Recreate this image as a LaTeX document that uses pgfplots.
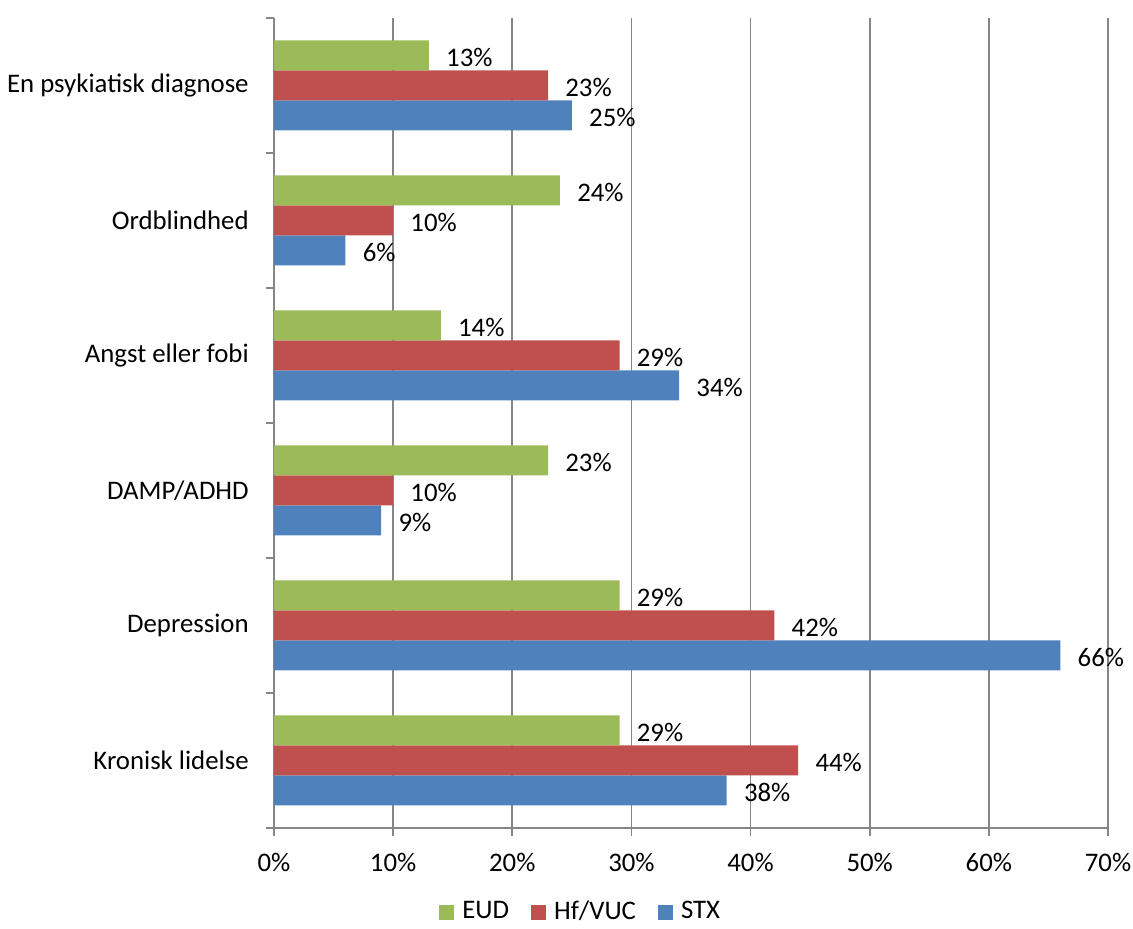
\documentclass[border=0pt]{standalone}
\usepackage{pgfplots}
\pgfplotsset{compat=1.18}
\usepackage{fontspec}
\setmainfont{Carlito}
\definecolor{eud}{HTML}{9BBB59}
\definecolor{hf}{HTML}{C0504D}
\definecolor{stx}{HTML}{4F81BD}
\definecolor{axgray}{HTML}{868686}
\newcommand{\cf}{\fontsize{13.4}{16}\selectfont}
\begin{document}
\cf
\begin{tikzpicture}
\begin{axis}[
  /pgf/number format/assume math mode=true,
  at={(0,0)}, anchor=south west,
  scale only axis, width=417pt, height=405pt,
  xmin=0, xmax=70, ymin=-0.5, ymax=5.5,
  xbar, bar width=15pt,
  axis x line=bottom, axis y line=left,
  axis line style={-, color=axgray, line width=0.8pt},
  every tick/.style={color=axgray, line width=0.8pt},
  tick align=outside,
  xtick={0,10,...,70},
  xticklabel={\pgfmathprintnumber{\tick}\%},
  xticklabel style={yshift=-4pt},
  major tick length=4pt,
  xmajorgrids,
  grid style={color=axgray, line width=0.9pt},
  ytick={0,...,5},
  yticklabels={Kronisk lidelse, Depression, DAMP/ADHD, Angst eller fobi, Ordblindhed, En psykiatisk diagnose},
  ytick style={draw=none},
  yticklabel style={xshift=-4pt},
  extra y ticks={-0.5,0.5,...,5.5},
  extra y tick labels={},
  extra y tick style={ytick style={draw=axgray}, grid=none, major tick length=4pt},
  tick label style={font=\cf},
  nodes near coords={\pgfmathprintnumber{\pgfplotspointmeta}\%},
  every node near coord/.append style={anchor=west, xshift=4pt, yshift=-1pt, color=black, font=\cf},
  reverse legend,
  legend style={at={(rel axis cs:0.369,-0.104)}, anchor=center, legend columns=3, draw=none,
    font=\cf, inner sep=1pt,
    /tikz/every odd column/.append style={column sep=2pt},
    /tikz/every even column/.append style={column sep=9pt}},
  legend image code/.code={\fill (0pt,-3.75pt) rectangle (7.5pt,3.75pt);},
]
\addplot[fill=stx, draw=none, bar shift=-15pt] coordinates {(38,0) (66,1) (9,2) (34,3) (6,4) (25,5)};
\addplot[fill=hf, draw=none, bar shift=0pt] coordinates {(44,0) (42,1) (10,2) (29,3) (10,4) (23,5)};
\addplot[fill=eud, draw=none, bar shift=15pt] coordinates {(29,0) (29,1) (23,2) (14,3) (24,4) (13,5)};
\legend{STX, Hf/VUC, EUD}
\end{axis}
\pgfresetboundingbox
\path (-137pt,-50.5pt) rectangle (429.5pt,414pt);
\end{tikzpicture}
\end{document}
